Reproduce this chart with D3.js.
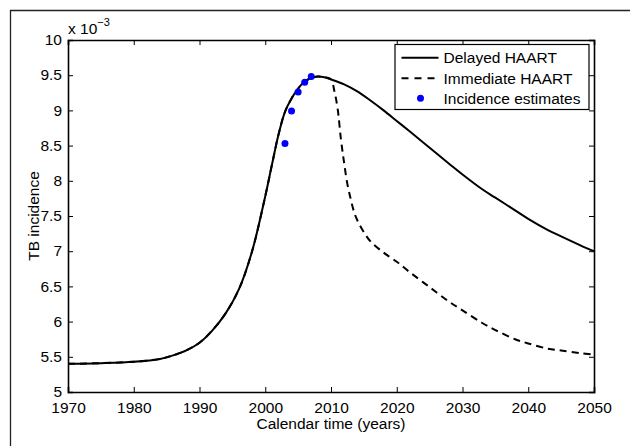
<!DOCTYPE html>
<html><head><meta charset="utf-8">
<script src="https://cdn.jsdelivr.net/npm/d3@7"></script>
<style>
html,body{margin:0;padding:0;background:#fff;}
svg{display:block;}
text{font-family:"Liberation Sans",Arial,Helvetica,sans-serif;fill:#000;}
</style></head>
<body>
<svg id="chart" width="630" height="446"></svg>
<script>
// ---- data (values in units of 1e-3) ----
const delayedYears = [1970,1975,1980,1984,1986,1988,1990,1992,1994,1996,1998,2000,2001,2002,2003,2004,2005,2006,2007,2008,2009,2010,2012,2014,2016,2018,2020,2022,2025,2028,2030,2033,2035,2038,2040,2043,2045,2048,2050];
const delayedValues = [5.40,5.41,5.43,5.47,5.52,5.59,5.70,5.88,6.12,6.46,7.00,7.78,8.22,8.65,8.98,9.17,9.31,9.41,9.46,9.48,9.47,9.44,9.37,9.27,9.14,9.00,8.85,8.70,8.47,8.24,8.09,7.88,7.76,7.58,7.46,7.30,7.21,7.08,7.00];

const immediateYears = [1970,1975,1980,1984,1986,1988,1990,1992,1994,1996,1998,2000,2001,2002,2003,2004,2005,2006,2007,2008,2009,2010,2010.5,2011,2011.5,2012,2012.5,2013,2013.5,2014,2015,2016,2018,2020,2022,2025,2028,2030,2033,2035,2038,2040,2043,2045,2048,2050];
const immediateValues = [5.40,5.41,5.43,5.47,5.52,5.59,5.70,5.88,6.12,6.46,7.00,7.78,8.22,8.65,8.98,9.17,9.31,9.41,9.46,9.48,9.47,9.44,9.28,9.03,8.60,8.25,7.95,7.74,7.56,7.44,7.27,7.14,6.98,6.85,6.70,6.49,6.28,6.16,5.98,5.88,5.75,5.69,5.615,5.59,5.55,5.53];

const estimateYears = [2003,2004,2005,2006,2007];
const estimateValues = [8.53,8.99,9.26,9.40,9.48];

const xTicks = [1970,1980,1990,2000,2010,2020,2030,2040,2050];
const yTicks = [5,5.5,6,6.5,7,7.5,8,8.5,9,9.5,10];
const legendLabels = ["Delayed HAART","Immediate HAART","Incidence estimates"];

// ---- layout ----
const svg = d3.select("#chart");
const L = 68, R = 594, T = 40, B = 392;
const FS = "15.5px";
const x = d3.scaleLinear().domain([1970,2050]).range([L,R]);
const y = d3.scaleLinear().domain([5,10]).range([B,T]);

// figure frame (left + top edges)
svg.append("path").attr("d", `M10.5,446 V10.5 H630`).attr("fill","none").attr("stroke","#222").attr("stroke-width",1.3);

// axes
const tickLen = 5;
const gB = svg.append("g").attr("transform",`translate(0,${B})`)
  .call(d3.axisBottom(x).tickValues(xTicks).tickFormat(d3.format("d")).tickSize(-tickLen));
const gT = svg.append("g").attr("transform",`translate(0,${T})`)
  .call(d3.axisTop(x).tickValues(xTicks).tickFormat("").tickSize(-tickLen));
const gL = svg.append("g").attr("transform",`translate(${L},0)`)
  .call(d3.axisLeft(y).tickValues(yTicks).tickFormat(d => String(d)).tickSize(-tickLen).tickPadding(6));
const gR = svg.append("g").attr("transform",`translate(${R},0)`)
  .call(d3.axisRight(y).tickValues(yTicks).tickFormat("").tickSize(-tickLen));
[gB,gT,gL,gR].forEach(g=>{
  g.select(".domain").attr("stroke","#000").attr("stroke-width",1.6);
  g.selectAll(".tick line").attr("stroke","#000").attr("stroke-width",1);
  g.selectAll(".tick text").attr("font-family","Liberation Sans, Arial, sans-serif").attr("font-size",FS).attr("fill","#000");
});
gB.selectAll(".tick text").attr("y",20.5).attr("dy",0);
gL.selectAll(".tick text").attr("dy","0.3em");

// exponent label
const ex = svg.append("text").attr("x",L).attr("y",34).attr("font-size",FS);
ex.append("tspan").text("x 10");
ex.append("tspan").attr("dy",-8).attr("font-size","11px").text("\u22123");

// axis titles
svg.append("text").attr("x",(L+R)/2).attr("y",428.5).attr("text-anchor","middle").attr("font-size",FS).text("Calendar time (years)");
svg.append("text").attr("transform",`translate(39,${(T+B)/2}) rotate(-90)`).attr("text-anchor","middle").attr("font-size",FS).text("TB incidence");

// lines
const line = d3.line().x(d=>x(d[0])).y(d=>y(d[1])).curve(d3.curveCatmullRom.alpha(0.5));
const delayed = delayedYears.map((v,i)=>[v,delayedValues[i]]);
const immediate = immediateYears.map((v,i)=>[v,immediateValues[i]]);
svg.append("path").datum(immediate).attr("d",line).attr("fill","none").attr("stroke","#000").attr("stroke-width",2).attr("stroke-dasharray","7,5");
svg.append("path").datum(delayed).attr("d",line).attr("fill","none").attr("stroke","#000").attr("stroke-width",2);

// estimates
svg.selectAll("circle.est").data(estimateYears.map((v,i)=>[v,estimateValues[i]])).enter()
  .append("circle").attr("class","est").attr("cx",d=>x(d[0])).attr("cy",d=>y(d[1])).attr("r",3.5).attr("fill","#0000ff");

// legend
const lg = svg.append("g");
lg.append("rect").attr("x",395).attr("y",44.5).attr("width",194).attr("height",65).attr("fill","#fff").attr("stroke","#000").attr("stroke-width",1.2);
const rowsY = [57.7,78.3,98.3];
legendLabels.forEach((lab,i)=>{
  const yy = rowsY[i];
  if(i<2){
    lg.append("line").attr("x1",401.5).attr("x2",438.5).attr("y1",yy).attr("y2",yy).attr("stroke","#000").attr("stroke-width",2)
      .attr("stroke-dasharray", i===1 ? "7,6" : null);
  } else {
    lg.append("circle").attr("cx",420.5).attr("cy",yy).attr("r",3.5).attr("fill","#0000ff");
  }
  lg.append("text").attr("x",443.5).attr("y",yy).attr("dy","0.36em").attr("font-size",FS).text(lab);
});
</script>
</body></html>
